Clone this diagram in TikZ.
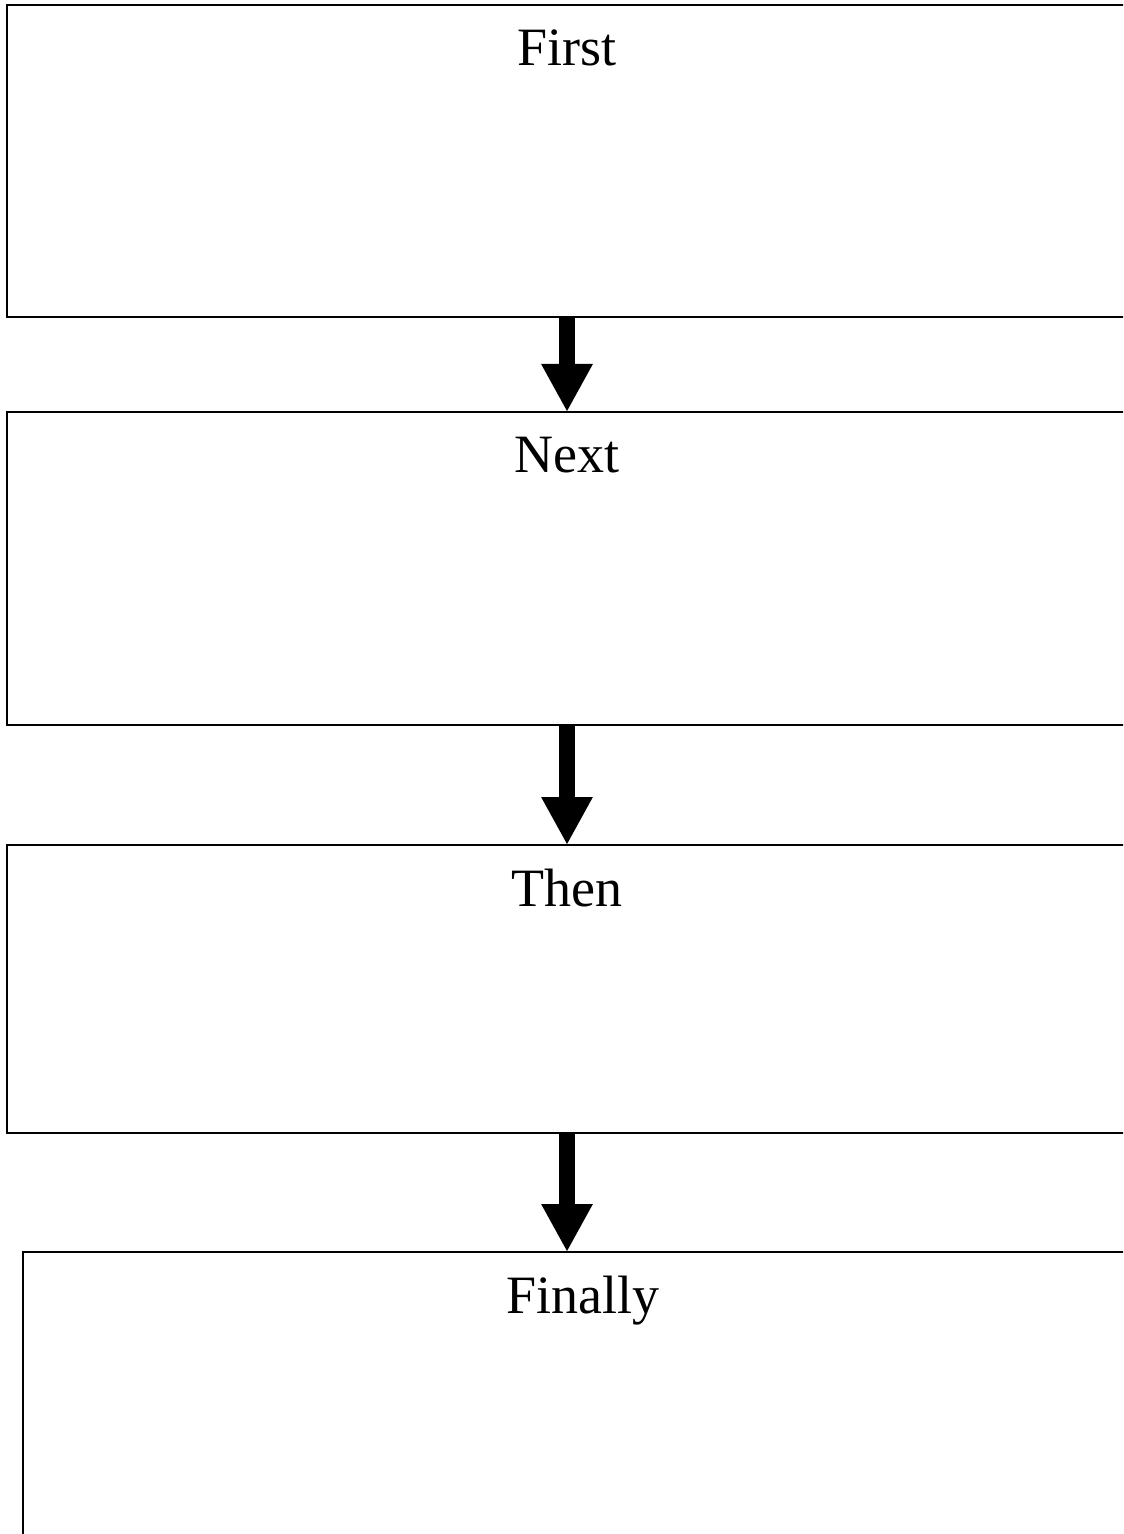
\documentclass[tikz,border=0pt]{standalone}
\usepackage{fontspec}
\setmainfont{Liberation Serif}
\usepackage{tikz}
\usetikzlibrary{arrows.meta, positioning}
\definecolor{inkblack}{HTML}{000000}
\tikzset{
  stagebox/.style={draw=inkblack, line width=0.75pt, rectangle, inner sep=0pt, outer sep=0pt, minimum width=560pt},
  stagetext/.style={inkblack, anchor=base, font=\fontsize{27}{27}\selectfont},
  flowarrow/.style={inkblack, line width=8pt, -{Triangle[length=24pt, width=24pt]}}
}

\begin{document}
\begin{tikzpicture}[x=0.5pt, y=-0.5pt]
  % Page frame (boxes run past the right and bottom edges)
  \useasboundingbox (0,0) rectangle (1123,1534);
  \clip (0,0) rectangle (1123,1534);

  % Stage boxes
  \node[stagebox, minimum height=156pt, anchor=north west] (first) at (7,5) {};
  \node[stagebox, minimum height=156.5pt, anchor=north west] (next) at (7,412) {};
  \node[stagebox, minimum height=144pt, anchor=north west] (then) at (7,845) {};
  \node[stagebox, minimum height=156pt, anchor=north west] (finally) at (23,1252) {};

  % Stage titles
  \node[stagetext] (firsttxt) at ([yshift=-30.5pt]first.north) {First};
  \node[stagetext] (nexttxt) at ([yshift=-30.5pt]next.north) {Next};
  \node[stagetext] (thentxt) at ([yshift=-30.5pt]then.north) {Then};
  \node[stagetext] (finallytxt) at ([yshift=-30.5pt]finally.north) {Finally};

  % Arrows between stages
  \draw[flowarrow] (first.south) -- (next.north);
  \draw[flowarrow] (next.south) -- (then.north);
  \draw[flowarrow] (then.south) -- (then.south |- finally.north);
\end{tikzpicture}
\end{document}
